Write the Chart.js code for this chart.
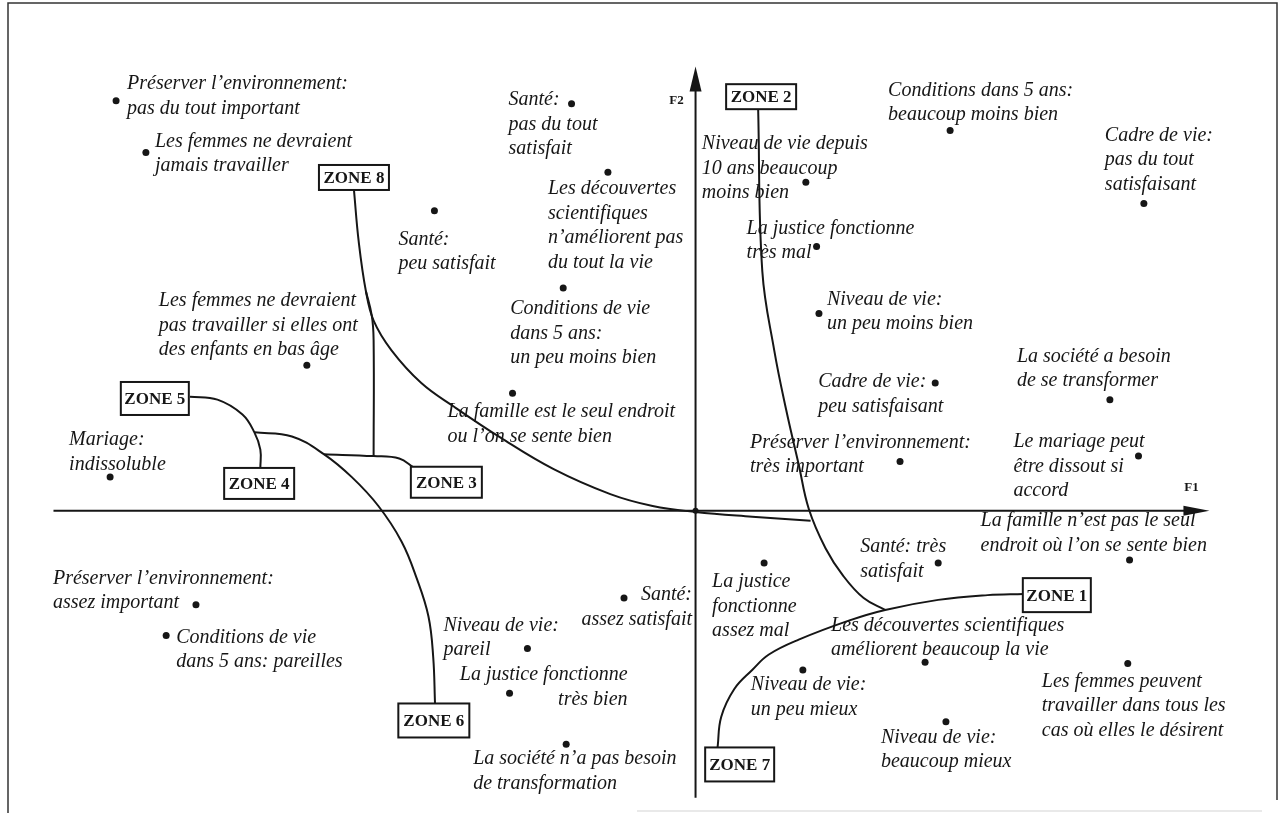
<!DOCTYPE html>
<html>
<head>
<meta charset="utf-8">
<script src="https://cdn.jsdelivr.net/npm/chart.js@4.4.1/dist/chart.umd.min.js"></script>
<style>
  html, body { margin: 0; padding: 0; background: #fff; }
</style>
</head>
<body>
<canvas id="map" width="1282" height="813"></canvas>
<script>
const ctx = document.getElementById("map");

// modalities: coordinates on F1 / F2
const labels = [
  ["Préserver l’environnement:", "pas du tout important"],
  ["Les femmes ne devraient", "jamais travailler"],
  ["Santé:", "pas du tout", "satisfait"],
  ["Les découvertes", "scientifiques", "n’améliorent pas", "du tout la vie"],
  ["Santé:", "peu satisfait"],
  ["Niveau de vie depuis", "10 ans beaucoup", "moins bien"],
  ["La justice fonctionne", "très mal"],
  ["Conditions dans 5 ans:", "beaucoup moins bien"],
  ["Cadre de vie:", "pas du tout", "satisfaisant"],
  ["Les femmes ne devraient", "pas travailler si elles ont", "des enfants en bas âge"],
  ["Conditions de vie", "dans 5 ans:", "un peu moins bien"],
  ["La famille est le seul endroit", "ou l’on se sente bien"],
  ["Niveau de vie:", "un peu moins bien"],
  ["Cadre de vie:", "peu satisfaisant"],
  ["Préserver l’environnement:", "très important"],
  ["La société a besoin", "de se transformer"],
  ["Le mariage peut", "être dissout si", "accord"],
  ["Mariage:", "indissoluble"],
  ["La famille n’est pas le seul", "endroit où l’on se sente bien"],
  ["Santé: très", "satisfait"],
  ["Préserver l’environnement:", "assez important"],
  ["Conditions de vie", "dans 5 ans: pareilles"],
  ["Santé:", "assez satisfait"],
  ["Niveau de vie:", "pareil"],
  ["La justice fonctionne", "très bien"],
  ["La société n’a pas besoin", "de transformation"],
  ["La justice", "fonctionne", "assez mal"],
  ["Les découvertes scientifiques", "améliorent beaucoup la vie"],
  ["Niveau de vie:", "un peu mieux"],
  ["Les femmes peuvent", "travailler dans tous les", "cas où elles le désirent"],
  ["Niveau de vie:", "beaucoup mieux"],
];

const f1 = [
  -0.972, -0.922, -0.208, -0.147, -0.438, 0.185, 0.203, 0.427, 0.752, -0.652,
  -0.222, -0.307, 0.207, 0.402, 0.343, 0.695, 0.743, -0.982, 0.728, 0.407,
  -0.838, -0.888, -0.120, -0.282, -0.312, -0.217, 0.115, 0.385, 0.180, 0.725,
  0.420,
];

const f2 = [
  0.690, 0.603, 0.685, 0.570, 0.505, 0.553, 0.445, 0.640, 0.517, 0.245,
  0.375, 0.198, 0.332, 0.215, 0.083, 0.187, 0.092, 0.057, -0.083, -0.088,
  -0.158, -0.210, -0.147, -0.232, -0.307, -0.393, -0.088, -0.255, -0.268, -0.257,
  -0.355,
];

// zones
const zoneNames = ["ZONE 1", "ZONE 2", "ZONE 3", "ZONE 4", "ZONE 5", "ZONE 6", "ZONE 7", "ZONE 8"];
const zoneF1 = [0.606, 0.110, -0.418, -0.732, -0.907, -0.439, 0.074, -0.573];
const zoneF2 = [-0.142, 0.697, 0.048, 0.046, 0.189, -0.353, -0.427, 0.561];

// curves linking the zones
const curveZone8 = [
  [-0.573, 0.540], [-0.565, 0.453], [-0.553, 0.370], [-0.540, 0.320], [-0.510, 0.270],
  [-0.460, 0.215], [-0.405, 0.175], [-0.327, 0.123], [-0.238, 0.070], [-0.143, 0.028],
  [-0.072, 0.008], [0, -0.002], [0.095, -0.010], [0.193, -0.017],
];
const curveZone3a = [[-0.553, 0.370], [-0.543, 0.328], [-0.540, 0.287], [-0.540, 0.092]];
const curveZone3b = [[-0.623, 0.095], [-0.540, 0.092], [-0.497, 0.088], [-0.473, 0.073]];
const curveZone5 = [
  [-0.848, 0.192], [-0.802, 0.187], [-0.760, 0.162], [-0.740, 0.132], [-0.730, 0.103], [-0.730, 0.072],
];
const curveZone6 = [
  [-0.740, 0.132], [-0.677, 0.125], [-0.623, 0.095], [-0.577, 0.057], [-0.532, 0.008],
  [-0.493, -0.052], [-0.468, -0.113], [-0.448, -0.178], [-0.440, -0.247], [-0.437, -0.325],
];
const curveZone2 = [
  [0.105, 0.677], [0.112, 0.403], [0.132, 0.270], [0.152, 0.170], [0.173, 0.078],
  [0.190, 0.003], [0.218, -0.063], [0.248, -0.110], [0.282, -0.147], [0.318, -0.167],
];
const curveZone1 = [
  [0.550, -0.140], [0.490, -0.142], [0.407, -0.150], [0.318, -0.167], [0.257, -0.185],
  [0.173, -0.217], [0.123, -0.242], [0.095, -0.268], [0.065, -0.300], [0.043, -0.347], [0.037, -0.398],
];

// label placement in px from the dot: [dx, dy of first line, align]
const labelPlace = [
  [11, -17, "left"], [9, -11, "left"], [-63, -4, "left"], [-60, 17, "left"], [-36, 29, "left"],
  [-104, -38, "left"], [-70, -18, "left"], [-62, -40, "left"], [-39, -68, "left"], [-148, -64, "left"],
  [-53, 21, "left"], [-65, 19, "left"], [8, -14, "left"], [-117, -1, "left"], [-150, -19, "left"],
  [-93, -43, "left"], [-125, -14, "left"], [-41, -37, "left"], [-149, -39, "left"], [-78, -16, "left"],
  [-143, -26, "left"], [10, 2, "left"], [68, -3, "right"], [-84, -23, "left"], [118, -18, "right"],
  [-93, 15, "left"], [-52, 19, "left"], [-94, -37, "left"], [-52, 15, "left"], [-86, 18, "left"],
  [-65, 16, "left"],
];
const zoneBoxW = [68, 70, 71, 70, 68, 71, 69, 70];
const zoneBoxH = [34, 25, 31, 31, 33, 34, 34, 25];

const INK = "#161616";
const LINE_H = 24.5;

function curveSet(pts) {
  return {
    type: "line",
    data: pts.map(([a, b]) => ({ x: a, y: b })),
    showLine: true,
    borderColor: INK,
    borderWidth: 2,
    pointRadius: 0,
    tension: 0.4,
    fill: false,
  };
}

const decor = {
  id: "decor",
  beforeDatasetsDraw(chart) {
    const c = chart.ctx;
    const sx = chart.scales.x;
    const sy = chart.scales.y;
    const ox = sx.getPixelForValue(0);
    const oy = sy.getPixelForValue(0);
    c.save();
    c.strokeStyle = INK;
    c.fillStyle = INK;

    // page frame
    c.lineWidth = 1.5;
    c.strokeStyle = "#333";
    c.beginPath();
    c.moveTo(8, 813);
    c.lineTo(8, 3);
    c.lineTo(1277, 3);
    c.lineTo(1277, 800);
    c.stroke();
    c.strokeStyle = "#e2e2e2";
    c.beginPath();
    c.moveTo(637, 811);
    c.lineTo(1262, 811);
    c.stroke();
    c.strokeStyle = INK;

    // F1 axis
    const xa = sx.getPixelForValue(-1.077);
    const xb = sx.getPixelForValue(0.862);
    c.lineWidth = 2;
    c.beginPath();
    c.moveTo(xa, oy);
    c.lineTo(xb - 20, oy);
    c.stroke();
    c.beginPath();
    c.moveTo(xb, oy);
    c.lineTo(xb - 26, oy - 5);
    c.lineTo(xb - 26, oy + 5);
    c.closePath();
    c.fill();

    // F2 axis
    const ya = sy.getPixelForValue(0.748);
    const yb = sy.getPixelForValue(-0.483);
    c.beginPath();
    c.moveTo(ox, yb);
    c.lineTo(ox, ya + 20);
    c.stroke();
    c.beginPath();
    c.moveTo(ox, ya);
    c.lineTo(ox - 6, ya + 25);
    c.lineTo(ox + 6, ya + 25);
    c.closePath();
    c.fill();

    c.beginPath();
    c.arc(ox, oy, 3, 0, Math.PI * 2);
    c.fill();

    c.font = "bold 13px 'Liberation Serif'";
    c.textBaseline = "middle";
    c.textAlign = "center";
    c.fillText("F2", ox - 19, ya + 34);
    c.fillText("F1", xb - 18, oy - 23);
    c.restore();
  },
  afterDatasetsDraw(chart) {
    const c = chart.ctx;
    const sx = chart.scales.x;
    const sy = chart.scales.y;
    const meta = chart.getDatasetMeta(0);
    c.save();
    c.fillStyle = INK;
    c.textBaseline = "middle";
    c.font = "italic 20px 'Liberation Serif'";

    meta.data.forEach((pt, i) => {
      const [dx, dy, align] = labelPlace[i];
      c.textAlign = align;
      labels[i].forEach((line, k) => {
        c.fillText(line, pt.x + dx, pt.y + dy + k * LINE_H);
      });
    });

    // zone boxes
    c.font = "bold 17px 'Liberation Serif'";
    c.textAlign = "center";
    c.lineWidth = 2;
    c.strokeStyle = INK;
    zoneNames.forEach((name, i) => {
      const cx = sx.getPixelForValue(zoneF1[i]);
      const cy = sy.getPixelForValue(zoneF2[i]);
      const w = zoneBoxW[i];
      const h = zoneBoxH[i];
      c.fillStyle = "#fff";
      c.fillRect(cx - w / 2, cy - h / 2, w, h);
      c.strokeRect(cx - w / 2, cy - h / 2, w, h);
      c.fillStyle = INK;
      c.fillText(name, cx, cy + 1);
    });
    c.restore();
  },
};

new Chart(ctx, {
  type: "scatter",
  data: {
    datasets: [
      {
        label: "Modalités",
        data: f1.map((v, i) => ({ x: v, y: f2[i] })),
        pointRadius: 3.5,
        pointBackgroundColor: INK,
        pointBorderWidth: 0,
      },
      curveSet(curveZone8),
      curveSet(curveZone3a),
      curveSet(curveZone3b),
      curveSet(curveZone5),
      curveSet(curveZone6),
      curveSet(curveZone2),
      curveSet(curveZone1),
    ],
  },
  options: {
    responsive: false,
    animation: false,
    layout: { padding: 0 },
    plugins: {
      legend: { display: false },
      tooltip: { enabled: false },
    },
    scales: {
      x: { type: "linear", display: false, min: -1.16, max: 0.977 },
      y: { type: "linear", display: false, min: -0.502, max: 0.853 },
    },
  },
  plugins: [decor],
});
</script>
</body>
</html>
